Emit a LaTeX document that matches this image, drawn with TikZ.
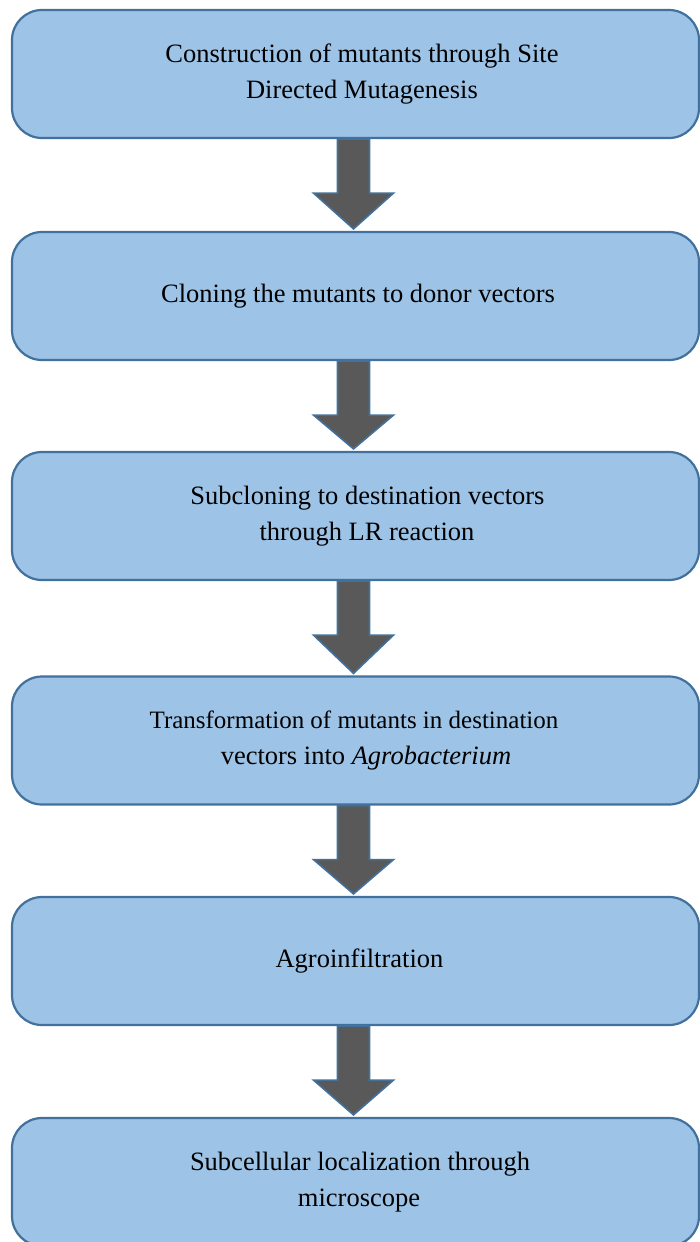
\documentclass[tikz,border=0pt]{standalone}
\usepackage{fontspec}
\setmainfont{Liberation Serif}
\usetikzlibrary{calc}
\definecolor{boxfill}{HTML}{9DC3E6}
\definecolor{boxline}{HTML}{41719C}
\definecolor{arrfill}{HTML}{595959}
\tikzset{
  stepbox/.style={draw=boxline, fill=boxfill, line width=2.2pt, rounded corners=30pt,
    minimum width=687pt, minimum height=128pt, align=center, inner sep=0pt,
    font=\fontsize{26.5}{36.5}\selectfont},
  flowarrow/.style={draw=boxline, fill=arrfill, line width=1.6pt, line join=miter}
}
\newcommand\flowarr[2]{%
  \draw[flowarrow] ($(#1.south)+(-18,0)$) -- ($(#1.south)+(-18,-54)$) -- ($(#1.south)+(-42,-54)$)
    -- ($(#2.north)+(-2,2)$) -- ($(#1.south)+(38,-54)$) -- ($(#1.south)+(14,-54)$)
    -- ($(#1.south)+(14,0)$) -- cycle;}
\begin{document}
\begin{tikzpicture}[x=1pt,y=1pt]
\useasboundingbox (0,0) rectangle (700,-1242);
\clip (0,0) rectangle (700,-1242);
\node[stepbox] (b1) at (355.5,-74) {\hspace*{13pt}Construction of mutants through Site\\\hspace*{13pt}Directed Mutagenesis};
\node[stepbox] (b2) at (355.5,-296) {\hspace*{5pt}Cloning the mutants to donor vectors};
\node[stepbox] (b3) at (355.5,-516) {\hspace*{24pt}Subcloning to destination vectors\\\hspace*{23pt}through LR reaction};
\node[stepbox] (b4) at (355.5,-740.5) {\hspace*{-3pt}{\fontsize{25}{36.5}\selectfont Transformation of mutants in destination}\\\hspace*{21pt}vectors into \textit{Agrobacterium}};
\node[stepbox] (b5) at (355.5,-961) {\hspace*{8pt}Agroinfiltration};
\node[stepbox] (b6) at (355.5,-1182) {\hspace*{9pt}Subcellular localization through\\\hspace*{7pt}microscope};
\flowarr{b1}{b2}
\flowarr{b2}{b3}
\flowarr{b3}{b4}
\flowarr{b4}{b5}
\flowarr{b5}{b6}
\end{tikzpicture}
\end{document}
